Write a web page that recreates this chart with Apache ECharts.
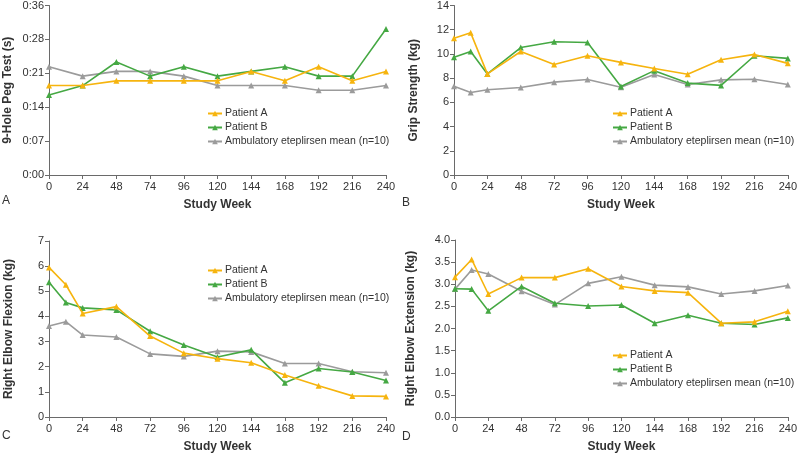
<!DOCTYPE html>
<html>
<head>
<meta charset="utf-8">
<script src="https://cdn.jsdelivr.net/npm/echarts@6/dist/echarts.min.js"></script>
<style>html,body{margin:0;padding:0;background:#fff;}#c{width:800px;height:454px;}</style>
</head>
<body>
<div id="c"></div>
<script>
// ---------- Data ----------
const seriesNames = ['Patient A', 'Patient B', 'Ambulatory eteplirsen mean (n=10)'];

// Panel A: 9-Hole Peg Test (seconds)
const weeksA = [0, 24, 48, 72, 96, 120, 144, 168, 192, 216, 240];
const weekLabelsA = ['0', '24', '48', '74', '96', '120', '144', '168', '192', '216', '240'];
const pegTickLabels = ['0:00', '0:07', '0:14', '0:21', '0:28', '0:36'];
const pegPatientA = [19, 19, 20, 20, 20, 20, 22, 20, 23, 20, 22];
const pegPatientB = [17, 19, 24, 21, 23, 21, 22, 23, 21, 21, 31];
const pegMean     = [23, 21, 22, 22, 21, 19, 19, 19, 18, 18, 19];

// Panels B-D weeks
const weeks = [0, 12, 24, 48, 72, 96, 120, 144, 168, 192, 216, 240];

// Panel B: Grip Strength (kg)
const gripPatientA = [11.3, 11.74, 8.35, 10.2, 9.12, 9.85, 9.3, 8.8, 8.32, 9.52, 9.96, 9.22];
const gripPatientB = [9.72, 10.2, 8.35, 10.53, 11.0, 10.94, 7.31, 8.62, 7.59, 7.4, 9.85, 9.63];
const gripMean     = [7.34, 6.82, 7.04, 7.23, 7.67, 7.89, 7.25, 8.3, 7.48, 7.86, 7.91, 7.48];

// Panel C: Right Elbow Flexion (kg)
const flexPatientA = [5.95, 5.26, 4.12, 4.39, 3.22, 2.54, 2.32, 2.16, 1.67, 1.24, 0.84, 0.82];
const flexPatientB = [5.36, 4.55, 4.34, 4.26, 3.41, 2.86, 2.39, 2.67, 1.36, 1.93, 1.79, 1.45];
const flexMean     = [3.62, 3.79, 3.26, 3.18, 2.51, 2.41, 2.62, 2.59, 2.13, 2.13, 1.8, 1.76];

// Panel D: Right Elbow Extension (kg)
const extPatientA = [3.16, 3.56, 2.78, 3.15, 3.15, 3.35, 2.95, 2.85, 2.81, 2.12, 2.15, 2.39];
const extPatientB = [2.90, 2.89, 2.40, 2.95, 2.57, 2.51, 2.53, 2.12, 2.30, 2.12, 2.09, 2.24];
const extMean     = [2.89, 3.32, 3.23, 2.84, 2.54, 3.02, 3.17, 2.98, 2.94, 2.78, 2.85, 2.97];

const yTitles = ['9-Hole Peg Test (s)', 'Grip Strength (kg)', 'Right Elbow Flexion (kg)', 'Right Elbow Extension (kg)'];
const panelLetters = ['A', 'B', 'C', 'D'];

// ---------- Styling ----------
const colors = ['#F6B40E', '#45A843', '#9B9B9B'];
const axisColor = '#6a6a6a';
const textColor = '#333';
const fontFamily = 'Liberation Sans, Arial, sans-serif';

const grids = [
  {left: 49, top: 3, width: 337, height: 172},
  {left: 454, top: 4, width: 337, height: 171},
  {left: 49, top: 241, width: 337, height: 177},
  {left: 455, top: 240, width: 336, height: 178}
];

function pairs(xs, ys) { return xs.map((x, i) => [x, ys[i]]); }

const panelData = [
  {x: weeksA, ys: [pegPatientA, pegPatientB, pegMean]},
  {x: weeks, ys: [gripPatientA, gripPatientB, gripMean]},
  {x: weeks, ys: [flexPatientA, flexPatientB, flexMean]},
  {x: weeks, ys: [extPatientA, extPatientB, extMean]}
];

const yAxisCfg = [
  {min: 0, max: 36, interval: 7.2, formatter: v => pegTickLabels[Math.round(v / 7.2)], nameGap: 35},
  {min: 0, max: 14, interval: 2, formatter: v => String(v), nameGap: 34},
  {min: 0, max: 7, interval: 1, formatter: v => String(v), nameGap: 34},
  {min: 0, max: 4, interval: 0.5, formatter: v => v.toFixed(1), nameGap: 38}
];

const xAxes = grids.map((g, i) => ({
  type: 'value', gridIndex: i, min: 0, max: 240, interval: 24,
  name: 'Study Week', nameLocation: 'middle', nameGap: 24,
  nameTextStyle: {fontWeight: 'bold', fontSize: 12, color: textColor, fontFamily},
  axisLine: {show: true, lineStyle: {color: axisColor, width: 1}},
  axisTick: {show: true, length: 4, lineStyle: {color: axisColor}},
  splitLine: {show: false},
  axisLabel: {
    color: textColor, fontSize: 11, fontFamily, margin: 6,
    formatter: i === 0 ? (v => weekLabelsA[Math.round(v / 24)]) : (v => String(v))
  }
}));

const yAxes = grids.map((g, i) => ({
  type: 'value', gridIndex: i,
  min: yAxisCfg[i].min, max: yAxisCfg[i].max, interval: yAxisCfg[i].interval,
  name: yTitles[i], nameLocation: 'middle', nameGap: yAxisCfg[i].nameGap, nameRotate: 90,
  nameTextStyle: {fontWeight: 'bold', fontSize: 12, color: textColor, fontFamily},
  axisLine: {show: true, lineStyle: {color: axisColor, width: 1}},
  axisTick: {show: true, length: 4, lineStyle: {color: axisColor}},
  splitLine: {show: false},
  axisLabel: {color: textColor, fontSize: 11, fontFamily, margin: 5, formatter: yAxisCfg[i].formatter}
}));

const series = [];
panelData.forEach((p, i) => {
  p.ys.forEach((ys, k) => {
    series.push({
      type: 'line', name: seriesNames[k], xAxisIndex: i, yAxisIndex: i,
      data: pairs(p.x, ys),
      symbol: 'triangle', symbolSize: 6, showSymbol: true,
      lineStyle: {color: colors[k], width: 1.6},
      itemStyle: {color: colors[k]},
      z: 3 - k + 2
    });
  });
});

const legendPos = [
  {left: 207, top: 108},
  {left: 612, top: 108},
  {left: 207, top: 265},
  {left: 612, top: 350}
];
const legends = legendPos.map(pos => ({
  left: pos.left, top: pos.top, orient: 'vertical', itemGap: 3, padding: 0,
  itemWidth: 14, itemHeight: 7, data: seriesNames,
  textStyle: {color: textColor, fontSize: 10.5, lineHeight: 11, fontFamily, padding: [0, 0, 0, -2]}
}));

const letterPos = [{left: 2, top: 195}, {left: 402, top: 197}, {left: 2, top: 430}, {left: 402, top: 431}];
const titles = letterPos.map((p, i) => ({
  text: panelLetters[i], left: p.left, top: p.top, padding: 0,
  textStyle: {fontSize: 12, fontWeight: 'normal', color: textColor, fontFamily}
}));

const chart = echarts.init(document.getElementById('c'), null, {renderer: 'canvas'});
chart.setOption({
  animation: false,
  backgroundColor: '#fff',
  title: titles,
  grid: grids,
  xAxis: xAxes,
  yAxis: yAxes,
  legend: legends,
  series: series
});
</script>
</body>
</html>
